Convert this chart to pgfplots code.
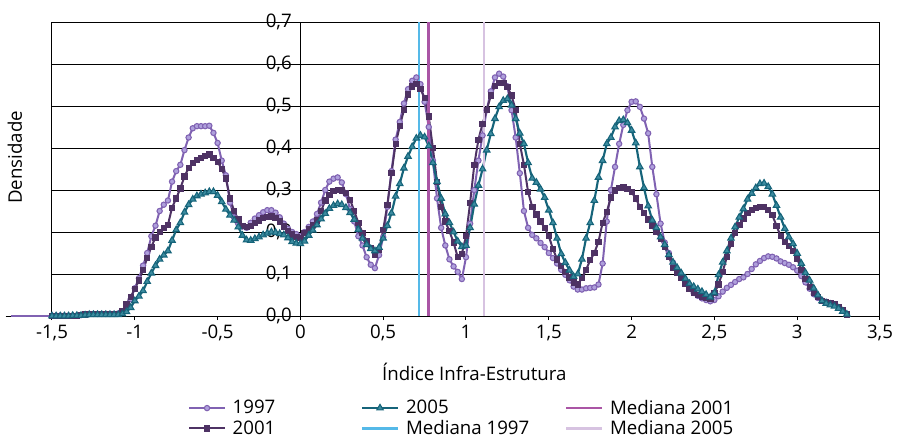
\documentclass[border=0pt]{standalone}
\usepackage{pgfplots}
\pgfplotsset{compat=1.18}
\usepackage{pgfplotstable}
\usepackage{fontspec}
\setmainfont{Open Sans}
\definecolor{c97}{RGB}{128,98,178}
\definecolor{c97f}{RGB}{175,160,220}
\definecolor{c01}{RGB}{78,50,100}
\definecolor{c05}{RGB}{22,100,122}
\definecolor{c05f}{RGB}{60,140,160}
\definecolor{m97}{RGB}{85,185,232}
\definecolor{m01}{RGB}{170,85,165}
\definecolor{m05}{RGB}{215,195,225}
\pgfplotstableread{
x a b c
-1.500 0.001 0.001 0.000
-1.475 0.001 0.001 0.000
-1.450 0.001 0.001 0.000
-1.425 0.001 0.001 0.000
-1.400 0.001 0.001 0.000
-1.375 0.001 0.001 0.001
-1.350 0.001 0.001 0.001
-1.325 0.002 0.002 0.001
-1.300 0.004 0.004 0.002
-1.275 0.005 0.005 0.003
-1.250 0.005 0.005 0.003
-1.225 0.005 0.005 0.003
-1.200 0.005 0.005 0.003
-1.175 0.005 0.005 0.003
-1.150 0.005 0.005 0.003
-1.125 0.005 0.005 0.003
-1.100 0.006 0.005 0.003
-1.075 0.008 0.012 0.005
-1.050 0.022 0.028 0.010
-1.025 0.040 0.046 0.020
-1.000 0.066 0.064 0.036
-0.975 0.090 0.085 0.047
-0.950 0.120 0.110 0.060
-0.925 0.150 0.138 0.082
-0.900 0.190 0.165 0.102
-0.875 0.215 0.187 0.120
-0.850 0.250 0.200 0.135
-0.825 0.265 0.209 0.145
-0.800 0.275 0.217 0.155
-0.775 0.320 0.258 0.180
-0.750 0.345 0.280 0.205
-0.725 0.360 0.304 0.222
-0.700 0.395 0.332 0.247
-0.675 0.425 0.352 0.265
-0.650 0.447 0.365 0.278
-0.625 0.452 0.372 0.286
-0.600 0.452 0.377 0.290
-0.575 0.452 0.381 0.293
-0.550 0.453 0.385 0.296
-0.525 0.436 0.377 0.296
-0.500 0.412 0.367 0.287
-0.475 0.370 0.350 0.272
-0.450 0.335 0.328 0.254
-0.425 0.270 0.280 0.240
-0.400 0.235 0.250 0.228
-0.375 0.220 0.230 0.212
-0.350 0.213 0.215 0.192
-0.325 0.210 0.212 0.181
-0.300 0.222 0.215 0.180
-0.275 0.232 0.222 0.184
-0.250 0.240 0.228 0.188
-0.225 0.247 0.233 0.193
-0.200 0.252 0.236 0.197
-0.175 0.252 0.237 0.200
-0.150 0.246 0.233 0.199
-0.125 0.235 0.225 0.196
-0.100 0.220 0.213 0.193
-0.075 0.208 0.202 0.186
-0.050 0.200 0.194 0.177
-0.025 0.195 0.188 0.173
0.000 0.190 0.186 0.172
0.025 0.200 0.198 0.178
0.050 0.212 0.208 0.192
0.075 0.225 0.217 0.204
0.100 0.243 0.228 0.217
0.125 0.270 0.250 0.231
0.150 0.300 0.275 0.244
0.175 0.320 0.289 0.256
0.200 0.327 0.298 0.263
0.225 0.330 0.300 0.267
0.250 0.318 0.299 0.265
0.275 0.290 0.293 0.258
0.300 0.255 0.277 0.246
0.325 0.225 0.250 0.230
0.350 0.190 0.222 0.206
0.375 0.168 0.198 0.185
0.400 0.140 0.178 0.170
0.425 0.122 0.162 0.160
0.450 0.114 0.145 0.155
0.475 0.145 0.158 0.163
0.500 0.188 0.205 0.185
0.525 0.260 0.265 0.215
0.550 0.345 0.340 0.245
0.575 0.420 0.410 0.285
0.600 0.462 0.452 0.315
0.625 0.506 0.490 0.352
0.650 0.540 0.528 0.380
0.675 0.560 0.547 0.403
0.700 0.568 0.552 0.423
0.725 0.552 0.540 0.430
0.750 0.510 0.520 0.426
0.775 0.450 0.475 0.405
0.800 0.370 0.400 0.365
0.825 0.280 0.320 0.320
0.850 0.210 0.260 0.280
0.875 0.168 0.225 0.243
0.900 0.135 0.202 0.222
0.925 0.118 0.175 0.200
0.950 0.105 0.140 0.178
0.975 0.088 0.148 0.165
1.000 0.140 0.190 0.168
1.025 0.220 0.270 0.210
1.050 0.300 0.360 0.266
1.075 0.370 0.420 0.311
1.100 0.430 0.458 0.350
1.125 0.490 0.490 0.395
1.150 0.535 0.525 0.434
1.175 0.568 0.548 0.470
1.200 0.577 0.555 0.498
1.225 0.570 0.555 0.513
1.250 0.547 0.545 0.517
1.275 0.490 0.525 0.502
1.300 0.425 0.490 0.470
1.325 0.340 0.410 0.435
1.350 0.250 0.360 0.410
1.375 0.210 0.295 0.365
1.400 0.193 0.260 0.328
1.425 0.185 0.242 0.318
1.450 0.174 0.225 0.302
1.475 0.164 0.210 0.282
1.500 0.150 0.190 0.252
1.525 0.138 0.160 0.222
1.550 0.125 0.135 0.185
1.575 0.110 0.120 0.148
1.600 0.098 0.105 0.127
1.625 0.085 0.092 0.109
1.650 0.070 0.080 0.094
1.675 0.063 0.075 0.100
1.700 0.063 0.090 0.135
1.725 0.066 0.110 0.185
1.750 0.067 0.133 0.222
1.775 0.068 0.150 0.275
1.800 0.075 0.177 0.330
1.825 0.125 0.222 0.370
1.850 0.225 0.248 0.410
1.875 0.300 0.282 0.425
1.900 0.355 0.299 0.450
1.925 0.410 0.305 0.465
1.950 0.455 0.306 0.467
1.975 0.490 0.303 0.460
2.000 0.510 0.295 0.442
2.025 0.511 0.280 0.412
2.050 0.498 0.260 0.355
2.075 0.470 0.246 0.305
2.100 0.435 0.230 0.262
2.125 0.355 0.216 0.228
2.150 0.290 0.200 0.210
2.175 0.220 0.184 0.188
2.200 0.175 0.165 0.170
2.225 0.150 0.142 0.146
2.250 0.127 0.115 0.128
2.275 0.108 0.102 0.115
2.300 0.094 0.090 0.102
2.325 0.080 0.077 0.089
2.350 0.066 0.065 0.077
2.375 0.055 0.056 0.070
2.400 0.048 0.051 0.064
2.425 0.042 0.047 0.058
2.450 0.038 0.044 0.051
2.475 0.035 0.040 0.045
2.500 0.038 0.055 0.055
2.525 0.047 0.075 0.098
2.550 0.058 0.105 0.128
2.575 0.067 0.140 0.155
2.600 0.074 0.172 0.185
2.625 0.081 0.198 0.212
2.650 0.088 0.217 0.235
2.675 0.092 0.232 0.255
2.700 0.100 0.246 0.278
2.725 0.112 0.252 0.292
2.750 0.123 0.257 0.305
2.775 0.131 0.260 0.315
2.800 0.138 0.259 0.316
2.825 0.142 0.253 0.308
2.850 0.141 0.240 0.290
2.875 0.137 0.215 0.263
2.900 0.130 0.190 0.235
2.925 0.126 0.177 0.208
2.950 0.122 0.167 0.188
2.975 0.116 0.155 0.172
3.000 0.108 0.137 0.149
3.025 0.095 0.110 0.125
3.050 0.080 0.088 0.103
3.075 0.065 0.070 0.085
3.100 0.052 0.055 0.066
3.125 0.043 0.045 0.050
3.150 0.037 0.036 0.036
3.175 0.034 0.032 0.030
3.200 0.031 0.030 0.026
3.225 0.027 0.028 0.023
3.250 0.021 0.021 0.018
3.275 0.014 0.014 0.011
3.300 0.003 0.004 0.004
}\datatable
\begin{document}
\begin{tikzpicture}
\begin{axis}[
  scale only axis, width=621pt, height=220.5pt,
  xmin=-1.5, xmax=3.5, ymin=0, ymax=0.7,
  enlargelimits=false, clip=false,
  axis x line=bottom, axis y line=middle,
  axis line style={-, black, line width=0.75pt},
  hide obscured x ticks=false, hide obscured y ticks=false,
  xtick={-1.5,-1,...,3.5}, ytick={0,0.1,...,0.7},
  xtick align=outside, ytick align=outside,
  major tick length=3pt,
  tick style={black, line width=0.75pt},
  ymajorgrids, grid style={black, line width=0.75pt},
  /pgf/number format/assume math mode=true,
  /pgf/number format/use comma,
  xticklabel style={/pgf/number format/fixed, font=\fontsize{14}{16}\selectfont},
  yticklabel style={/pgf/number format/fixed, /pgf/number format/fixed zerofill, /pgf/number format/precision=1, font=\fontsize{14}{16}\selectfont},
  xlabel={Índice Infra-Estrutura},
  ylabel={Densidade},
  every axis x label/.style={at={(rel axis cs:0.51,0)}, anchor=center, yshift=-42pt, font=\fontsize{14}{16}\selectfont},
  every axis y label/.style={at={(rel axis cs:0,0.54)}, anchor=center, rotate=90, yshift=27.75pt, font=\fontsize{14}{16}\selectfont},
  legend image code/.code={\draw[mark repeat=2,mark phase=2,#1] plot coordinates {(0pt,0pt) (13.5pt,0pt) (27pt,0pt)};},
  legend columns=2, transpose legend,
  legend cell align=left,
  legend style={draw=none, fill=none, inner sep=0pt, outer sep=0pt,
    at={(rel axis cs:0.1643,0)}, anchor=north west, yshift=-63pt,
    font=\fontsize{14}{16}\selectfont,
    nodes={inner sep=0pt},
    row sep=3pt,
    /tikz/every odd column/.append style={column sep=5pt},
    /tikz/every even column/.append style={column sep=0pt}},
]
\draw[black, line width=0.75pt] (rel axis cs:0,0) rectangle (rel axis cs:1,1);
\draw[black, line width=0.75pt] (axis cs:-1.78,0) -- (axis cs:-1.5,0);
\addplot[forget plot, c97, line width=1.5pt] coordinates {(-1.75,0) (-1.5,0)};
\addplot[c97, line width=1.5pt, mark=*, mark size=2pt, mark options={fill=c97f, draw=c97, line width=0.8pt}] table[x=x, y=a] {\datatable};
\addlegendentry{\makebox[96pt][l]{1997}}
\addplot[c01, line width=1.5pt, mark=square*, mark size=2pt, mark options={fill=c01, draw=c01, line width=0.6pt}] table[x=x, y=b] {\datatable};
\addlegendentry{\makebox[96pt][l]{2001}}
\addplot[c05, line width=1.6pt, mark=triangle*, mark size=2.8pt, mark options={fill=c05f, draw=c05, line width=0.8pt}] table[x=x, y=c] {\datatable};
\addlegendentry{\makebox[119pt][l]{2005}}
\addplot[m97, line width=2pt] coordinates {(0.716,0) (0.716,0.7)};
\addlegendentry{\makebox[119pt][l]{Mediana 1997}}
\addplot[m01, line width=2pt] coordinates {(0.775,0) (0.775,0.7)};
\addlegendentry{Mediana 2001}
\addplot[m05, line width=2pt] coordinates {(1.109,0) (1.109,0.7)};
\addlegendentry{Mediana 2005}
\end{axis}
\pgfresetboundingbox
\useasboundingbox (-39pt,-92.25pt) rectangle (633.75pt,237pt);
\end{tikzpicture}
\end{document}
